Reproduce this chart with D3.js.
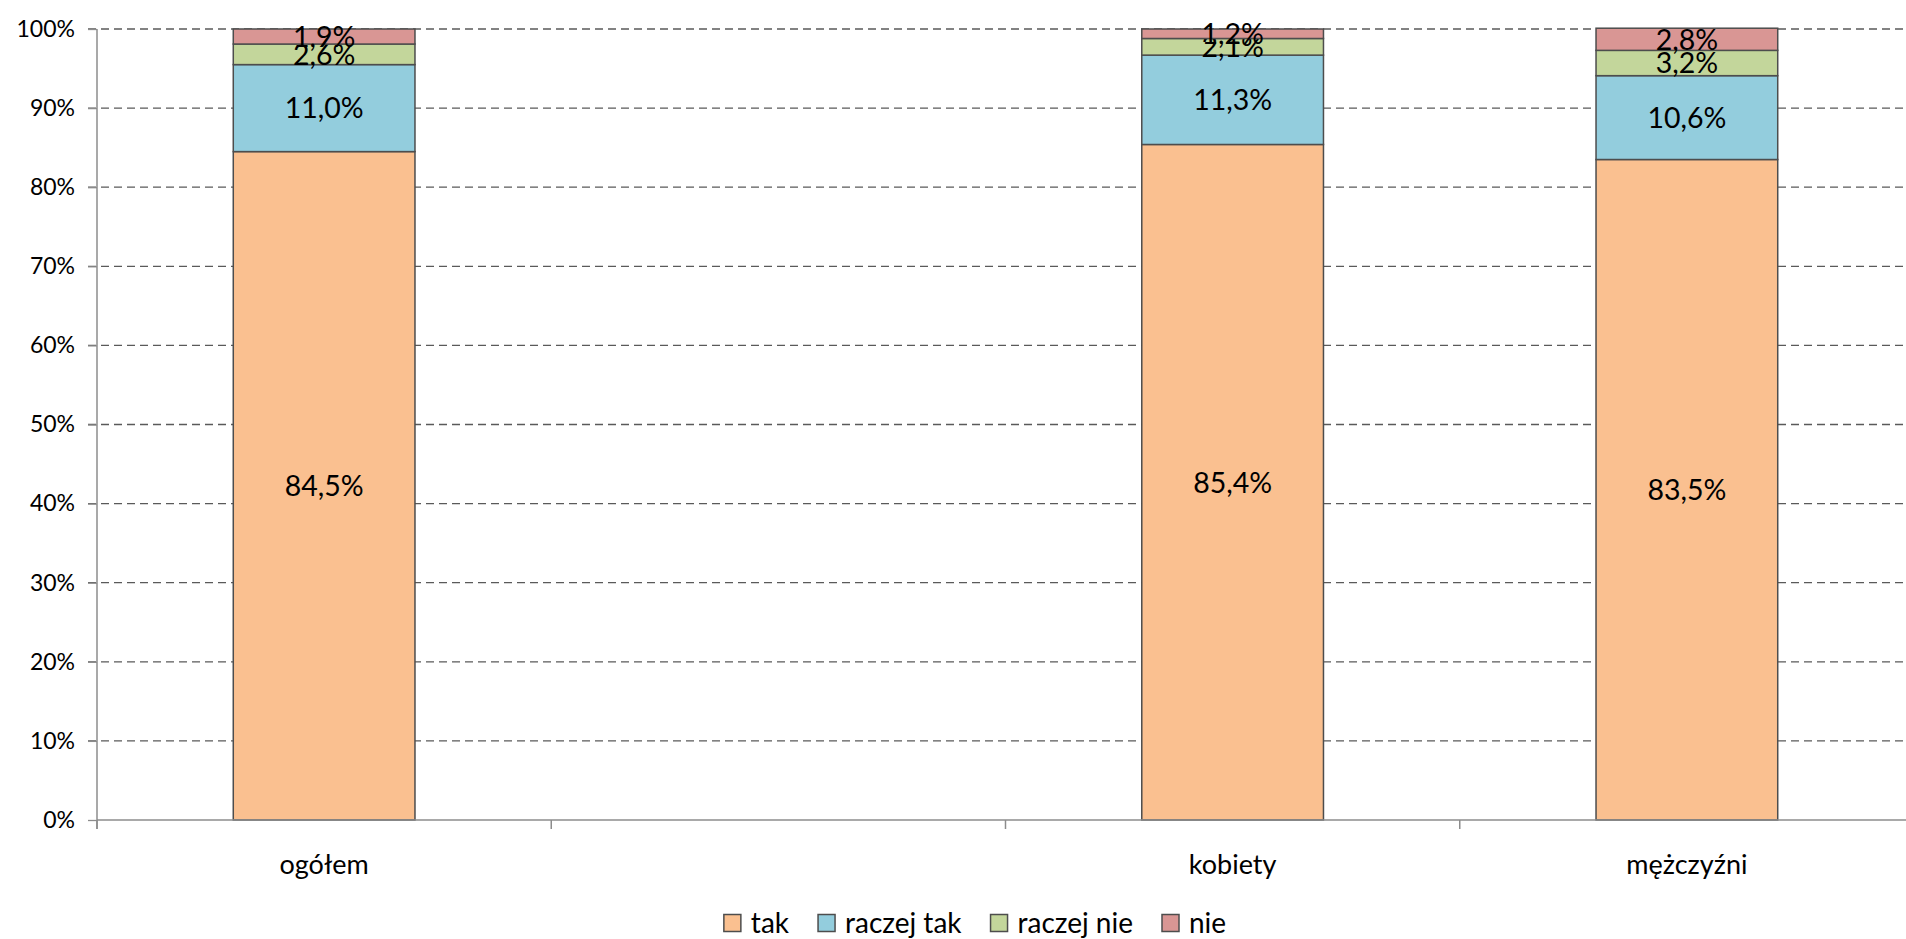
<!DOCTYPE html>
<html>
<head>
<meta charset="utf-8">
<script src="https://cdn.jsdelivr.net/npm/d3@7/dist/d3.min.js"></script>
<style>
  body { margin: 0; background: #fff; }
  svg { display: block; font-family: Lato, "Open Sans", sans-serif; }
</style>
</head>
<body>
<svg id="chart" width="1906" height="939"></svg>
<script>
// categories (second slot is empty in the original chart)
const categories = ['ogółem', '', 'kobiety', 'mężczyźni'];
const seriesNames = ['tak', 'raczej tak', 'raczej nie', 'nie'];
const seriesColors = ['#FAC090', '#93CDDD', '#C3D69B', '#D99694'];

const tak = [84.5, null, 85.4, 83.5];
const raczejTak = [11.0, null, 11.3, 10.6];
const raczejNie = [2.6, null, 2.1, 3.2];
const nie = [1.9, null, 1.2, 2.8];

const yTicks = [0, 10, 20, 30, 40, 50, 60, 70, 80, 90, 100];

const width = 1906;
const height = 939;
const margin = { left: 97, top: 29, right: -8, bottom: 119 };

const svg = d3.select('#chart');

const x = d3.scaleBand()
  .domain(d3.range(categories.length))
  .range([margin.left, width - margin.right]);

const y = d3.scaleLinear()
  .domain([0, 100])
  .range([height - margin.bottom, margin.top]);

const fmt = (v) => v.toFixed(1).replace('.', ',') + '%';

// dashed gridlines
svg.append('g')
  .selectAll('line')
  .data(yTicks.filter((d) => d > 0))
  .enter().append('line')
  .attr('x1', margin.left - 9)
  .attr('x2', width)
  .attr('y1', (d) => y(d))
  .attr('y2', (d) => y(d))
  .attr('stroke', '#5a5a5a')
  .attr('stroke-width', 1.3)
  .attr('stroke-dasharray', '8,5');

// y axis
const axisY = d3.axisLeft(y)
  .tickValues(yTicks)
  .tickSize(9)
  .tickPadding(13)
  .tickFormat((d) => d + '%');

const gy = svg.append('g')
  .attr('transform', `translate(${margin.left},0)`)
  .call(axisY);
gy.select('.domain').remove();
gy.selectAll('.tick line').attr('stroke', '#8c8c8c').attr('stroke-width', 1.3);
gy.selectAll('.tick text')
  .attr('fill', '#000')
  .style('font-size', '23px')
  .style('font-family', 'Lato, sans-serif');

svg.append('line')
  .attr('x1', margin.left).attr('x2', margin.left)
  .attr('y1', y(100)).attr('y2', y(0) + 9)
  .attr('stroke', '#8c8c8c').attr('stroke-width', 1.5);

// stacked bars
const seriesValues = [tak, raczejTak, raczejNie, nie];
const rows = categories.map((c, i) => {
  const row = { idx: i };
  seriesNames.forEach((s, k) => { row[s] = seriesValues[k][i] || 0; });
  return row;
});
const stacked = d3.stack().keys(seriesNames)(rows);

const barWidth = x.bandwidth() * 0.4;
const barX = (i) => x(i) + (x.bandwidth() - barWidth) / 2;

const layer = svg.append('g')
  .selectAll('g')
  .data(stacked)
  .enter().append('g')
  .attr('fill', (d, k) => seriesColors[k]);

layer.selectAll('rect')
  .data((d) => d.filter((p) => p[1] - p[0] > 0))
  .enter().append('rect')
  .attr('x', (p) => barX(p.data.idx))
  .attr('y', (p) => y(p[1]))
  .attr('width', barWidth)
  .attr('height', (p) => y(p[0]) - y(p[1]))
  .attr('stroke', '#4d4d4d')
  .attr('stroke-width', 1.5);

layer.selectAll('text')
  .data((d) => d.filter((p) => p[1] - p[0] > 0).map((p) => ({ p, v: p[1] - p[0] })))
  .enter().append('text')
  .attr('x', (d) => x(d.p.data.idx) + x.bandwidth() / 2)
  .attr('y', (d) => y((d.p[0] + d.p[1]) / 2))
  .attr('dy', '0.36em')
  .attr('text-anchor', 'middle')
  .attr('fill', '#000')
  .style('font-size', '28.5px')
  .text((d) => fmt(d.v));

// x axis
svg.append('line')
  .attr('x1', margin.left).attr('x2', width)
  .attr('y1', y(0)).attr('y2', y(0))
  .attr('stroke', '#8c8c8c').attr('stroke-width', 1.5);

svg.append('g')
  .selectAll('line')
  .data(d3.range(categories.length))
  .enter().append('line')
  .attr('x1', (i) => x(i)).attr('x2', (i) => x(i))
  .attr('y1', y(0)).attr('y2', y(0) + 9)
  .attr('stroke', '#8c8c8c').attr('stroke-width', 1.5);

svg.append('g')
  .selectAll('text')
  .data(categories)
  .enter().append('text')
  .attr('x', (c, i) => x(i) + x.bandwidth() / 2)
  .attr('y', y(0) + 44)
  .attr('dy', '0.36em')
  .attr('text-anchor', 'middle')
  .style('font-size', '27px')
  .text((c) => c);

// legend
const legend = svg.append('g');
const items = legend.selectAll('g')
  .data(seriesNames)
  .enter().append('g');

items.append('rect')
  .attr('width', 17).attr('height', 17)
  .attr('y', -8.5)
  .attr('fill', (d, k) => seriesColors[k])
  .attr('stroke', '#4d4d4d')
  .attr('stroke-width', 1.5);

items.append('text')
  .attr('x', 27)
  .attr('dy', '0.36em')
  .style('font-size', '28px')
  .text((d) => d);

let cursor = 0;
items.each(function () {
  const g = d3.select(this);
  g.attr('transform', `translate(${cursor},0)`);
  cursor += 27 + g.select('text').node().getComputedTextLength() + 29;
});
const legendWidth = cursor - 29;
legend.attr('transform', `translate(${975 - legendWidth / 2},${923})`);
</script>
</body>
</html>
